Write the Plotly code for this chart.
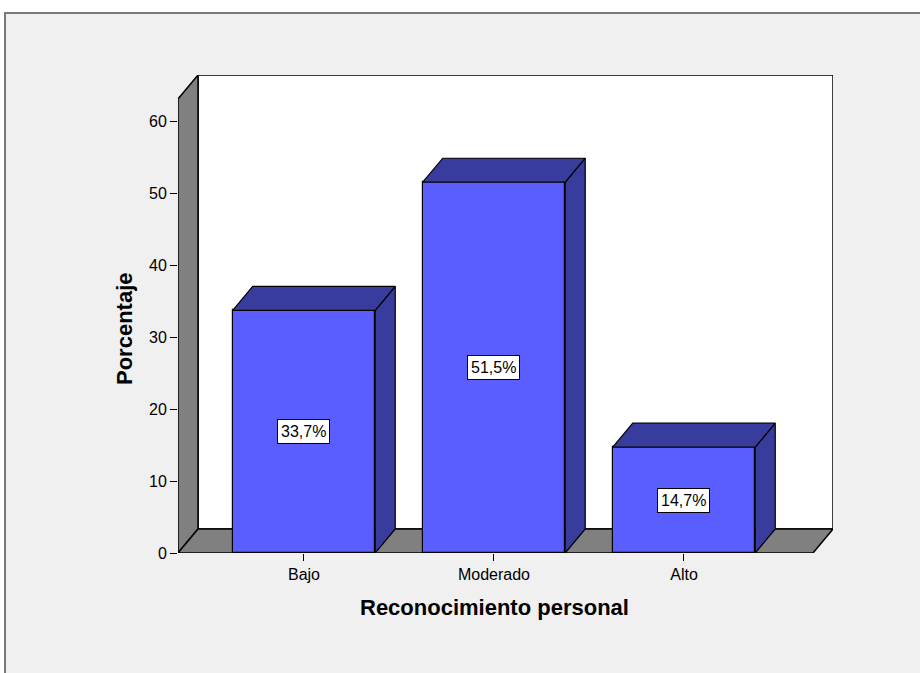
import plotly.graph_objects as go

# Data
categories = ["Bajo", "Moderado", "Alto"]
percentages = [33.7, 51.5, 14.7]
value_labels = ["33,7%", "51,5%", "14,7%"]
y_ticks = [0, 10, 20, 30, 40, 50, 60]

# Geometry of the pseudo-3D frame (data units)
BAR_W = 0.75
DX = 20 / 190          # depth offset along x
DY = 24 / 7.2          # depth offset along y
X0, X1 = -0.663, 2.679  # floor front edge
Y_TOP = 63.06           # top of the front plane

FRONT = "#5B5EFF"
SIDE = "#383C9C"
WALL = "#808080"
FONT = "Liberation Sans, Arial, sans-serif"

fig = go.Figure()

# front faces of the bars
fig.add_trace(go.Bar(
    x=list(range(len(categories))), y=percentages, width=BAR_W,
    marker=dict(color=FRONT, line=dict(color="black", width=1.2)),
    hoverinfo="skip", showlegend=False,
))

# side and top faces computed from each value
for i, v in enumerate(percentages):
    l, r = i - BAR_W / 2, i + BAR_W / 2
    fig.add_trace(go.Scatter(
        x=[r, r + DX, r + DX, r, r], y=[0, DY, v + DY, v, 0],
        mode="lines", fill="toself", fillcolor=SIDE,
        line=dict(color="black", width=1.2), hoverinfo="skip", showlegend=False,
    ))
    fig.add_trace(go.Scatter(
        x=[l, l + DX, r + DX, r, l], y=[v, v + DY, v + DY, v, v],
        mode="lines", fill="toself", fillcolor=SIDE,
        line=dict(color="black", width=1.2), hoverinfo="skip", showlegend=False,
    ))

# plot-area geometry in pixels (920x673 canvas)
L_PX, R_PX, T_PX, B_PX = 178, 833, 75, 553
W_PX, H_PX = R_PX - L_PX, B_PX - T_PX


def px_x(p):
    return (p - L_PX) / W_PX


def px_y(p):
    return (B_PX - p) / H_PX


shapes = [
    # outer panel
    dict(type="rect", xref="paper", yref="paper",
         x0=px_x(5), x1=px_x(930), y0=px_y(13), y1=px_y(690),
         fillcolor="#F0F0F0", line=dict(color="#7A7A7A", width=2), layer="below"),
    # back wall
    dict(type="rect", xref="x", yref="y",
         x0=X0 + DX, x1=X1 + DX, y0=DY, y1=Y_TOP + DY,
         fillcolor="white", line=dict(color="black", width=1.5), layer="below"),
    # left wall
    dict(type="path", xref="x", yref="y",
         path=f"M {X0},0 L {X0},{Y_TOP} L {X0 + DX},{Y_TOP + DY} L {X0 + DX},{DY} Z",
         fillcolor=WALL, line=dict(color="black", width=1.5), layer="below"),
    # floor
    dict(type="path", xref="x", yref="y",
         path=f"M {X0},0 L {X1},0 L {X1 + DX},{DY} L {X0 + DX},{DY} Z",
         fillcolor=WALL, line=dict(color="black", width=1.5), layer="below"),
]

annotations = []
for i, (v, t) in enumerate(zip(percentages, value_labels)):
    annotations.append(dict(
        x=i, y=v / 2, xref="x", yref="y", text=t, showarrow=False,
        xanchor="center", yanchor="middle",
        font=dict(family=FONT, size=16, color="black"),
        bgcolor="white", bordercolor="black", borderwidth=1, borderpad=3,
    ))

annotations.append(dict(
    x=px_x(494), y=px_y(607), xref="paper", yref="paper",
    xanchor="center", yanchor="middle",
    text="<b>Reconocimiento personal</b>", showarrow=False,
    font=dict(family=FONT, size=22, color="black"),
))
annotations.append(dict(
    x=px_x(124), y=px_y(329), xref="paper", yref="paper",
    xanchor="center", yanchor="middle",
    text="<b>Porcentaje</b>", showarrow=False, textangle=-90,
    font=dict(family=FONT, size=22, color="black"),
))

fig.update_layout(
    width=920, height=673,
    margin=dict(l=L_PX, r=920 - R_PX, t=T_PX, b=673 - B_PX),
    paper_bgcolor="white", plot_bgcolor="rgba(0,0,0,0)",
    shapes=shapes, annotations=annotations,
    bargap=0, showlegend=False,
    xaxis=dict(
        range=[X0, X1 + DX], tickvals=list(range(len(categories))),
        ticktext=categories, ticks="outside", ticklen=7, tickwidth=1.2,
        tickcolor="black", showgrid=False, zeroline=False, showline=False,
        tickfont=dict(family=FONT, size=16, color="black"), fixedrange=True,
    ),
    yaxis=dict(
        range=[0, Y_TOP + DY], tickvals=y_ticks, ticks="outside", ticklen=7,
        tickwidth=1.2, tickcolor="black", showgrid=False, zeroline=False,
        showline=False, tickfont=dict(family=FONT, size=16, color="black"),
        fixedrange=True,
    ),
)

fig.write_html("out.html")
